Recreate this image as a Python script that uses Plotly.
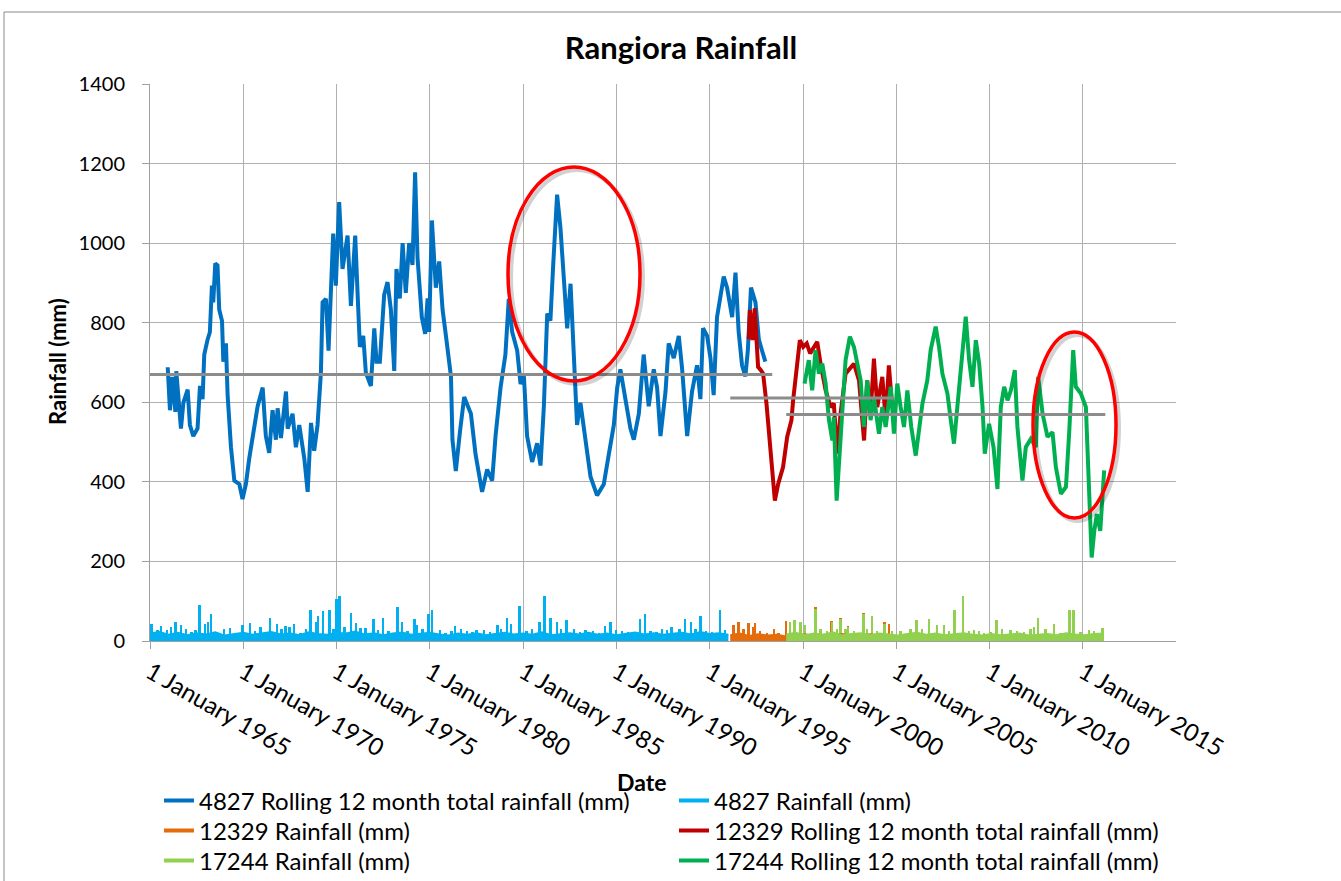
import plotly.graph_objects as go
from datetime import datetime

# ---------------- DATA ----------------
# 4827 rolling 12 month total (fractional year, mm)
r4827_yr = [1965.95, 1966.07, 1966.2, 1966.36, 1966.41, 1966.66, 1966.79, 1967.02, 1967.14, 1967.32,
            1967.55, 1967.68, 1967.82, 1967.91, 1968.09, 1968.21, 1968.32, 1968.39, 1968.5, 1968.62,
            1968.71, 1968.86, 1968.93, 1969.07, 1969.16, 1969.34, 1969.52, 1969.79, 1969.96, 1970.14,
            1970.32, 1970.59, 1970.77, 1971.04, 1971.21, 1971.39, 1971.57, 1971.75, 1971.84, 1972.02,
            1972.29, 1972.38, 1972.64, 1972.82, 1973.0, 1973.27, 1973.45, 1973.63, 1973.8, 1973.98,
            1974.16, 1974.25, 1974.43, 1974.57, 1974.7, 1974.82, 1974.96, 1975.14, 1975.32, 1975.59,
            1975.77, 1976.0, 1976.13, 1976.25, 1976.43, 1976.57, 1976.84, 1977.02, 1977.14, 1977.32,
            1977.55, 1977.73, 1977.91, 1978.09, 1978.21, 1978.39, 1978.54, 1978.71, 1978.89, 1979.07,
            1979.21, 1979.34, 1979.57, 1979.75, 1979.88, 1979.96, 1980.11, 1980.32, 1980.5, 1980.68,
            1980.86, 1981.04, 1981.13, 1981.21, 1981.39, 1981.61, 1981.84, 1982.2, 1982.45, 1982.8,
            1983.07, 1983.34, 1983.52, 1983.79, 1984.05, 1984.23, 1984.41, 1984.68, 1984.86, 1985.04,
            1985.21, 1985.48, 1985.75, 1985.93, 1986.11, 1986.29, 1986.46, 1986.61, 1986.82, 1987.0,
            1987.18, 1987.36, 1987.54, 1987.71, 1987.89, 1988.07, 1988.34, 1988.61, 1988.96, 1989.32,
            1989.59, 1989.86, 1990.04, 1990.21, 1990.48, 1990.75, 1990.93, 1991.2, 1991.46, 1991.73,
            1992.0, 1992.18, 1992.36, 1992.63, 1992.8, 1993.07, 1993.34, 1993.52, 1993.79, 1994.05,
            1994.32, 1994.5, 1994.64, 1994.86, 1995.04, 1995.21, 1995.39, 1995.75, 1995.93, 1996.2,
            1996.38, 1996.55, 1996.73, 1996.91, 1997.04, 1997.21, 1997.45, 1997.63, 1997.8, 1997.98]
r4827_val = [688, 580, 664, 576, 678, 534, 599, 632, 543, 515,
             534, 641, 608, 720, 758, 776, 893, 851, 949, 944,
             833, 804, 702, 748, 618, 487, 403, 394, 357, 394,
             459, 534, 590, 637, 515, 473, 580, 506, 585, 510,
             627, 534, 571, 487, 543, 459, 375, 548, 478, 543,
             674, 851, 860, 730, 907, 1024, 893, 1103, 935, 1019,
             842, 1019, 870, 739, 767, 674, 641, 786, 702, 702,
             870, 902, 833, 679, 935, 861, 1000, 875, 1000, 945,
             1178, 963, 814, 772, 861, 777, 1057, 888, 954, 833,
             767, 702, 665, 506, 427, 525, 613, 571, 469, 375,
             431, 403, 515, 637, 720, 860, 777, 730, 646, 665,
             515, 450, 497, 441, 590, 823, 805, 945, 1122, 1038,
             926, 786, 898, 702, 543, 599, 497, 413, 366, 394,
             469, 543, 637, 683, 608, 534, 506, 571, 720, 590,
             683, 637, 515, 627, 748, 711, 767, 683, 515, 627,
             693, 608, 786, 767, 711, 618, 814, 916, 888, 814,
             926, 777, 693, 665, 730, 888, 851, 758, 730, 702]

# 12329 rolling 12 month total
r12329_yr = [1997.09, 1997.15, 1997.25, 1997.3, 1997.41, 1997.52, 1997.59, 1997.75, 1997.86, 1998.04,
             1998.22, 1998.4, 1998.49, 1998.67, 1998.93, 1999.15, 1999.38, 1999.47, 1999.65, 1999.83,
             2000.01, 2000.2, 2000.38, 2000.56, 2000.76, 2000.94, 2001.21, 2001.48, 2001.65, 2001.83,
             2002.01, 2002.28, 2002.55, 2002.73, 2003.0, 2003.27, 2003.44, 2003.62, 2003.8, 2003.98,
             2004.25, 2004.43, 2004.6, 2004.78]
r12329_val = [758, 832, 790, 756, 836, 740, 689, 680, 672, 597,
              487, 387, 353, 395, 437, 513, 555, 605, 681, 756,
              739, 748, 723, 739, 752, 697, 630, 588, 597, 471,
              571, 672, 685, 697, 655, 504, 655, 571, 710, 588,
              664, 555, 693, 588]

# 17244 rolling 12 month total
r17244_yr = [2000.08, 2000.31, 2000.49, 2000.67, 2000.85, 2001.03, 2001.21, 2001.39, 2001.57, 2001.65,
             2001.8, 2001.98, 2002.1, 2002.28, 2002.51, 2002.73, 2002.91, 2003.09, 2003.26, 2003.44,
             2003.62, 2003.8, 2004.07, 2004.25, 2004.43, 2004.7, 2004.87, 2005.05, 2005.23, 2005.41,
             2005.59, 2005.8, 2006.04, 2006.22, 2006.4, 2006.66, 2006.84, 2007.11, 2007.29, 2007.47,
             2007.74, 2007.92, 2008.09, 2008.27, 2008.54, 2008.72, 2008.9, 2009.08, 2009.26, 2009.44,
             2009.62, 2009.74, 2009.97, 2010.21, 2010.42, 2010.6, 2010.78, 2010.96, 2011.14, 2011.35,
             2011.49, 2011.76, 2011.94, 2012.21, 2012.48, 2012.6, 2012.84, 2013.1, 2013.37, 2013.55,
             2013.82, 2014.09, 2014.27, 2014.36, 2014.48, 2014.62, 2014.89, 2015.16, 2015.34, 2015.47,
             2015.61, 2015.75, 2015.93, 2016.14]
r17244_val = [647, 706, 630, 731, 672, 697, 647, 555, 504, 563,
              353, 487, 588, 706, 765, 739, 697, 655, 538, 655,
              555, 613, 521, 588, 538, 639, 521, 647, 588, 538,
              630, 538, 466, 538, 597, 655, 731, 790, 739, 672,
              622, 555, 496, 588, 739, 815, 706, 639, 756, 697,
              588, 471, 546, 487, 382, 588, 639, 605, 630, 681,
              538, 403, 487, 508, 487, 664, 571, 513, 525, 437,
              370, 387, 529, 630, 731, 639, 622, 588, 370, 210,
              277, 319, 277, 429]

# Long-term means: (start year, end year, mm)
mean_4827 = (1965.0, 1998.35, 670)
mean_12329 = (1996.1, 2004.85, 611)
mean_17244 = (1999.1, 2016.2, 569)

# Rainfall series: background level every half year from a start year, plus storm spikes
rain4827_start = 1965.0
rain4827_base = [18, 22, 15, 20, 14, 19, 16, 21, 13, 17, 20, 15, 18, 22, 16, 19, 14, 21, 17, 15,
                 20, 18, 23, 16, 19, 14, 18, 21, 15, 17, 20, 16, 13, 18, 15, 19, 14, 17, 20, 16,
                 18, 15, 21, 14, 17, 19, 16, 20, 15, 18, 14, 17, 21, 16, 19, 15, 18, 20, 16, 22,
                 17, 19, 15]
rain4827_spk_yr = [1965.1, 1965.41, 1965.61, 1965.92, 1966.13, 1966.37, 1966.68, 1966.95, 1967.25, 1967.46,
                   1967.66, 1967.97, 1968.11, 1968.28, 1968.58, 1968.99, 1969.3, 1969.6, 1969.98, 1970.37,
                   1970.63, 1970.94, 1971.45, 1971.82, 1972.07, 1972.27, 1972.48, 1972.74, 1973.09, 1973.36,
                   1973.61, 1973.91, 1974.02, 1974.28, 1974.63, 1974.84, 1975.0, 1975.18, 1975.45, 1975.8,
                   1976.06, 1976.3, 1976.57, 1976.98, 1977.24, 1977.49, 1977.8, 1978.02, 1978.27, 1978.51,
                   1978.82, 1979.18, 1979.33, 1979.63, 1979.94, 1980.14, 1980.55, 1980.86, 1981.17, 1981.37,
                   1981.68, 1981.99, 1982.3, 1982.51, 1982.92, 1983.23, 1983.64, 1983.84, 1984.15, 1984.36,
                   1984.62, 1984.81, 1985.18, 1985.49, 1985.9, 1986.15, 1986.48, 1986.82, 1987.03, 1987.34,
                   1987.75, 1988.05, 1988.36, 1988.77, 1989.08, 1989.39, 1989.7, 1990.0, 1990.31, 1990.62,
                   1990.92, 1991.27, 1991.54, 1991.84, 1992.15, 1992.46, 1992.71, 1992.97, 1993.38, 1993.69,
                   1994.0, 1994.26, 1994.51, 1994.82, 1995.12, 1995.57, 1995.84]
rain4827_spk_val = [43, 27, 37, 27, 35, 47, 39, 31, 23, 27,
                    91, 43, 47, 68, 22, 31, 33, 20, 39, 46,
                    25, 35, 58, 42, 30, 37, 34, 43, 20, 31,
                    78, 48, 62, 75, 78, 30, 106, 114, 35, 70,
                    45, 33, 32, 56, 27, 58, 24, 20, 85, 49,
                    26, 56, 39, 30, 68, 78, 27, 20, 25, 37,
                    30, 24, 22, 27, 28, 22, 39, 30, 58, 43,
                    18, 87, 25, 31, 47, 114, 58, 47, 30, 52,
                    31, 22, 27, 25, 20, 37, 47, 28, 25, 22,
                    22, 56, 68, 25, 22, 31, 27, 35, 30, 56,
                    47, 30, 62, 25, 22, 78, 27]

rain12329_start = 1996.1
rain12329_base = [14, 18, 12, 16, 13, 15, 11, 14, 16, 12, 15, 13, 17, 12, 14, 16, 13, 15]
rain12329_spk_yr = [1996.29, 1996.56, 1996.82, 1997.09, 1997.33, 1997.45, 1997.72, 1998.08, 1998.47, 1998.7,
                    1999.11, 2000.67, 2001.53, 2002.01, 2002.42, 2003.26, 2004.39, 2004.61]
rain12329_spk_val = [40, 48, 30, 44, 35, 44, 25, 20, 31, 20,
                     50, 86, 50, 59, 37, 71, 47, 42]

rain17244_start = 1999.1
rain17244_base = [16, 20, 14, 18, 15, 21, 13, 17, 19, 14, 18, 16, 13, 17, 20, 15, 18, 14, 16, 19,
                  15, 13, 17, 14, 16, 18, 13, 15, 17, 14, 19, 16, 14, 17, 18]
rain17244_spk_yr = [1999.33, 1999.56, 1999.87, 2000.13, 2000.67, 2000.94, 2001.3, 2001.57, 2001.83, 2002.01,
                    2002.28, 2002.42, 2002.73, 2003.26, 2003.44, 2003.71, 2003.98, 2004.37, 2004.79, 2005.23,
                    2005.77, 2006.09, 2006.4, 2006.75, 2007.2, 2007.56, 2007.83, 2008.13, 2008.6, 2008.9,
                    2009.17, 2009.44, 2009.7, 2010.06, 2010.38, 2010.69, 2011.14, 2011.49, 2011.85, 2012.21,
                    2012.39, 2012.62, 2013.01, 2013.46, 2013.82, 2014.3, 2014.5, 2014.89, 2015.34, 2015.61,
                    2016.06]
rain17244_spk_val = [48, 52, 48, 40, 80, 30, 25, 47, 30, 55,
                     30, 35, 25, 68, 30, 64, 25, 42, 25, 25,
                     30, 52, 30, 56, 40, 40, 25, 77, 112, 25,
                     27, 25, 20, 22, 52, 30, 28, 25, 22, 30,
                     35, 59, 30, 42, 20, 77, 79, 22, 28, 25,
                     33]

tick_years = [1965, 1970, 1975, 1980, 1985, 1990, 1995, 2000, 2005, 2010, 2015]
tick_labels = ["1 January %d" % y for y in tick_years]

# ---------------- HELPERS ----------------
def to_date(f):
    y = int(f)
    a = datetime(y, 1, 1)
    b = datetime(y + 1, 1, 1)
    return a + (b - a) * (f - y)

def dates(lst):
    return [to_date(v) for v in lst]

def half_years(start, n):
    return [to_date(start + 0.5 * i) for i in range(n)]

# body margin is removed in the page, so figure pixels == window pixels
W, H = 1341, 881
PL, PT, PR, PB = 150, 84, 1176, 641          # plot area in window pixels
PW, PH = PR - PL, PB - PT
L, T, R, B = PL, PT, W - PR, H - PB

def px(x):   # window x -> paper
    return (x - PL) / PW

def py(y):   # window y -> paper
    return (PB - y) / PH

def cx(x):   # window x -> container
    return x / W

def cy(y):
    return 1 - y / H

FONT = "Lato"
C_BLUE, C_LBLUE = "#0070C0", "#00B0F0"
C_ORANGE, C_RED = "#E46C0A", "#C00000"
C_LGREEN, C_GREEN = "#92D050", "#00B050"
C_MEAN = "#8C8C8C"
SPIKE_W = 38 * 86400000  # ms
LW = 4

fig = go.Figure()

def add_rain(name, color, start, base, syr, sval, leg):
    fig.add_trace(go.Bar(x=dates(syr), y=sval, width=SPIKE_W, marker=dict(color=color, line=dict(width=0)),
                         showlegend=False, hoverinfo="skip"))
    fig.add_trace(go.Scatter(x=half_years(start, len(base)), y=base, mode="lines", fill="tozeroy",
                             fillcolor=color, line=dict(color=color, width=2.5), showlegend=False))
    # legend entry drawn as a plain line, like the original
    fig.add_trace(go.Scatter(x=[None], y=[None], mode="lines", line=dict(color=color, width=LW),
                             name=name, legend=leg))

fig.add_trace(go.Scatter(x=dates(r4827_yr), y=r4827_val, mode="lines", legend="legend",
                         line=dict(color=C_BLUE, width=LW), name="4827 Rolling 12 month total rainfall (mm)"))
add_rain("4827 Rainfall (mm)", C_LBLUE, rain4827_start, rain4827_base, rain4827_spk_yr, rain4827_spk_val,
         "legend2")
add_rain("12329 Rainfall (mm)", C_ORANGE, rain12329_start, rain12329_base, rain12329_spk_yr,
         rain12329_spk_val, "legend3")
fig.add_trace(go.Scatter(x=dates(r12329_yr), y=r12329_val, mode="lines", legend="legend4",
                         line=dict(color=C_RED, width=LW), name="12329 Rolling 12 month total rainfall (mm)"))
add_rain("17244 Rainfall (mm)", C_LGREEN, rain17244_start, rain17244_base, rain17244_spk_yr,
         rain17244_spk_val, "legend5")
fig.add_trace(go.Scatter(x=dates(r17244_yr), y=r17244_val, mode="lines", legend="legend6",
                         line=dict(color=C_GREEN, width=LW), name="17244 Rolling 12 month total rainfall (mm)"))

for (a, b, m) in (mean_4827, mean_12329, mean_17244):
    fig.add_trace(go.Scatter(x=[to_date(a), to_date(b)], y=[m, m], mode="lines",
                             line=dict(color=C_MEAN, width=3), showlegend=False, hoverinfo="skip"))

# ---------------- LAYOUT ----------------
shapes = [
    dict(type="rect", xref="paper", yref="paper", x0=px(4), x1=px(1360), y0=py(900), y1=py(12),
         line=dict(color="#8A8A8A", width=1), fillcolor="rgba(0,0,0,0)", layer="below"),
]
for (x0, x1, y0, y1) in ((508, 640, 167, 381), (1033, 1116, 332, 518)):
    shapes.append(dict(type="circle", xref="paper", yref="paper", x0=px(x0 + 3), x1=px(x1 + 3),
                       y0=py(y1 + 3), y1=py(y0 + 3), line=dict(color="rgba(0,0,0,0.18)", width=4)))
    shapes.append(dict(type="circle", xref="paper", yref="paper", x0=px(x0), x1=px(x1),
                       y0=py(y1), y1=py(y0), line=dict(color="#FF0000", width=3.5)))

legend_slots = {"legend": (159, 801), "legend2": (674, 801),
                "legend3": (159, 831), "legend4": (674, 831),
                "legend5": (159, 861), "legend6": (674, 861)}
legends = {}
for key, (lx, ly) in legend_slots.items():
    legends[key] = dict(orientation="v", xref="container", yref="container",
                        x=cx(lx), xanchor="left", y=cy(ly), yanchor="middle",
                        font=dict(family=FONT, size=24), bgcolor="rgba(0,0,0,0)")

fig.update_layout(
    width=W, height=H, autosize=False,
    margin=dict(l=L, r=R, t=T, b=B, pad=0, autoexpand=False),
    paper_bgcolor="white", plot_bgcolor="white",
    font=dict(family=FONT, size=21, color="#000000"),
    barmode="overlay", bargap=0,
    title=dict(text="<b>Rangiora Rainfall</b>", x=px(681), xref="paper", xanchor="center",
               y=cy(48), yref="container", yanchor="middle", font=dict(family=FONT, size=31)),
    showlegend=True,
    shapes=shapes,
    annotations=[
        dict(text="<b>Date</b>", x=px(641), y=py(782), xref="paper", yref="paper", showarrow=False,
             xanchor="center", yanchor="middle", font=dict(family=FONT, size=23)),
        dict(text="<b>Rainfall (mm)</b>", x=px(57), y=py(362), xref="paper", yref="paper", showarrow=False,
             textangle=-90, xanchor="center", yanchor="middle", font=dict(family=FONT, size=22)),
    ],
    **legends,
)

fig.update_xaxes(type="date", range=[to_date(1965.0), to_date(2019.99)], automargin=False,
                 tickvals=[to_date(y) for y in tick_years], ticktext=tick_labels, tickangle=30,
                 showgrid=True, gridcolor="#B0B0B0", gridwidth=1,
                 showline=True, linecolor="#A0A0A0", linewidth=1,
                 ticks="outside", ticklen=7, tickcolor="#A0A0A0", zeroline=False,
                 tickfont=dict(family=FONT, size=24))
fig.update_yaxes(range=[0, 1400], tickvals=[0, 200, 400, 600, 800, 1000, 1200, 1400], automargin=False,
                 showgrid=True, gridcolor="#B0B0B0", gridwidth=1,
                 showline=True, linecolor="#A0A0A0", linewidth=1,
                 ticks="outside", ticklen=7, tickcolor="#A0A0A0", zeroline=False,
                 ticklabelstandoff=13, tickfont=dict(family=FONT, size=20))

fig.write_html("out.html", config={"displayModeBar": False},
               post_script="document.body.style.margin='0';document.body.style.overflow='hidden';")
